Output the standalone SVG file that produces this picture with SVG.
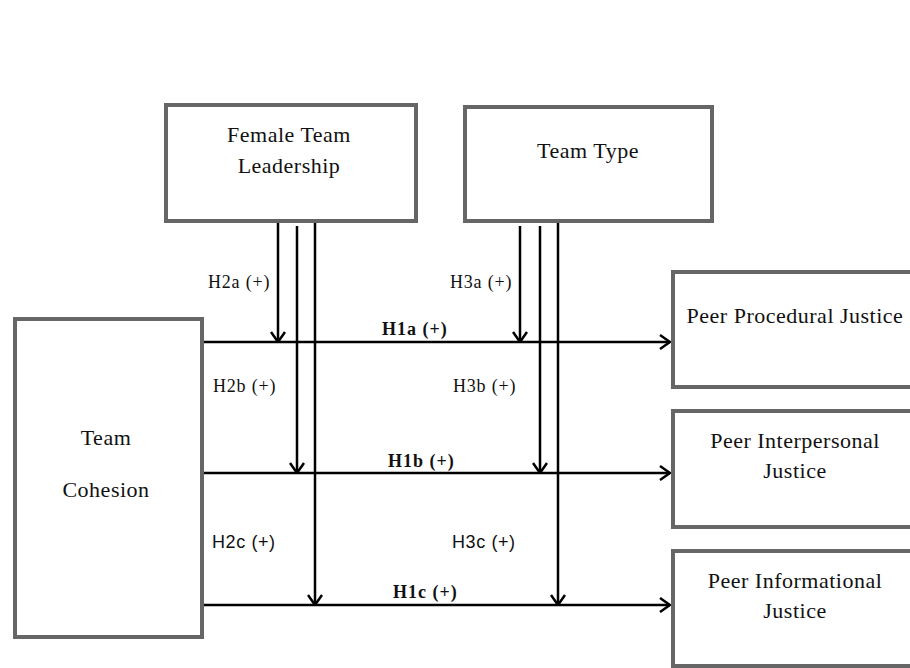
<svg xmlns="http://www.w3.org/2000/svg" width="910" height="668" viewBox="0 0 910 668">
<defs>
<marker id="arr" viewBox="0 0 12 16" refX="11" refY="8" markerWidth="12" markerHeight="16" markerUnits="userSpaceOnUse" orient="auto">
<path d="M1,1 L11,8 L1,15" fill="none" stroke="#000" stroke-width="2.5"/>
</marker>
<style>
.box{fill:#fff;stroke:#666;stroke-width:4}
.lbl{font-family:"Liberation Serif","Times New Roman",serif;font-size:22px;letter-spacing:0.5px;fill:#111;text-anchor:middle}
.h{font-family:"Liberation Serif","Times New Roman",serif;font-size:18px;letter-spacing:0.8px;fill:#111}
.hb{font-family:"Liberation Serif","Times New Roman",serif;font-size:18px;font-weight:bold;letter-spacing:1px;fill:#111}
.hs{font-family:"Liberation Sans",Arial,sans-serif;font-size:18px;letter-spacing:0.6px;fill:#111}
.ln{stroke:#000;stroke-width:2.5;fill:none}
</style>
</defs>
<rect width="910" height="668" fill="#fff"/>
<g id="connectors">
<line class="ln" x1="202" y1="342" x2="670" y2="342" marker-end="url(#arr)"/>
<line class="ln" x1="202" y1="473" x2="670" y2="473" marker-end="url(#arr)"/>
<line class="ln" x1="202" y1="605" x2="670" y2="605" marker-end="url(#arr)"/>
<line class="ln" x1="278" y1="223" x2="278" y2="342" marker-end="url(#arr)"/>
<line class="ln" x1="297" y1="226" x2="297" y2="473" marker-end="url(#arr)"/>
<line class="ln" x1="315" y1="223" x2="315" y2="605" marker-end="url(#arr)"/>
<line class="ln" x1="520" y1="226" x2="520" y2="342" marker-end="url(#arr)"/>
<line class="ln" x1="540" y1="226" x2="540" y2="473" marker-end="url(#arr)"/>
<line class="ln" x1="558" y1="223" x2="558" y2="605" marker-end="url(#arr)"/>
<text class="h" x="208" y="288">H2a (+)</text>
<text class="h" x="450" y="288">H3a (+)</text>
<text class="hb" x="382" y="335">H1a (+)</text>
<text class="h" x="213" y="392">H2b (+)</text>
<text class="h" x="453" y="392">H3b (+)</text>
<text class="hb" x="388" y="467">H1b (+)</text>
<text class="hs" x="212" y="548">H2c (+)</text>
<text class="hs" x="452" y="548">H3c (+)</text>
<text class="hb" x="393" y="598">H1c (+)</text>
</g>
<g id="female-team-leadership">
<rect class="box" x="166" y="105" width="250" height="116"/>
<text class="lbl" x="289" y="142">Female Team</text>
<text class="lbl" x="289" y="173">Leadership</text>
</g>
<g id="team-type">
<rect class="box" x="465" y="107" width="247" height="114"/>
<text class="lbl" x="588" y="158">Team Type</text>
</g>
<g id="team-cohesion">
<rect class="box" x="15" y="319" width="187" height="318"/>
<text class="lbl" x="106" y="445">Team</text>
<text class="lbl" x="106" y="497">Cohesion</text>
</g>
<g id="peer-procedural-justice">
<rect class="box" x="673" y="272" width="245" height="115"/>
<text class="lbl" x="795" y="323">Peer Procedural Justice</text>
</g>
<g id="peer-interpersonal-justice">
<rect class="box" x="673" y="411" width="245" height="116"/>
<text class="lbl" x="795" y="448">Peer Interpersonal</text>
<text class="lbl" x="795" y="478">Justice</text>
</g>
<g id="peer-informational-justice">
<rect class="box" x="673" y="551" width="245" height="115"/>
<text class="lbl" x="795" y="588">Peer Informational</text>
<text class="lbl" x="795" y="618">Justice</text>
</g>
</svg>
